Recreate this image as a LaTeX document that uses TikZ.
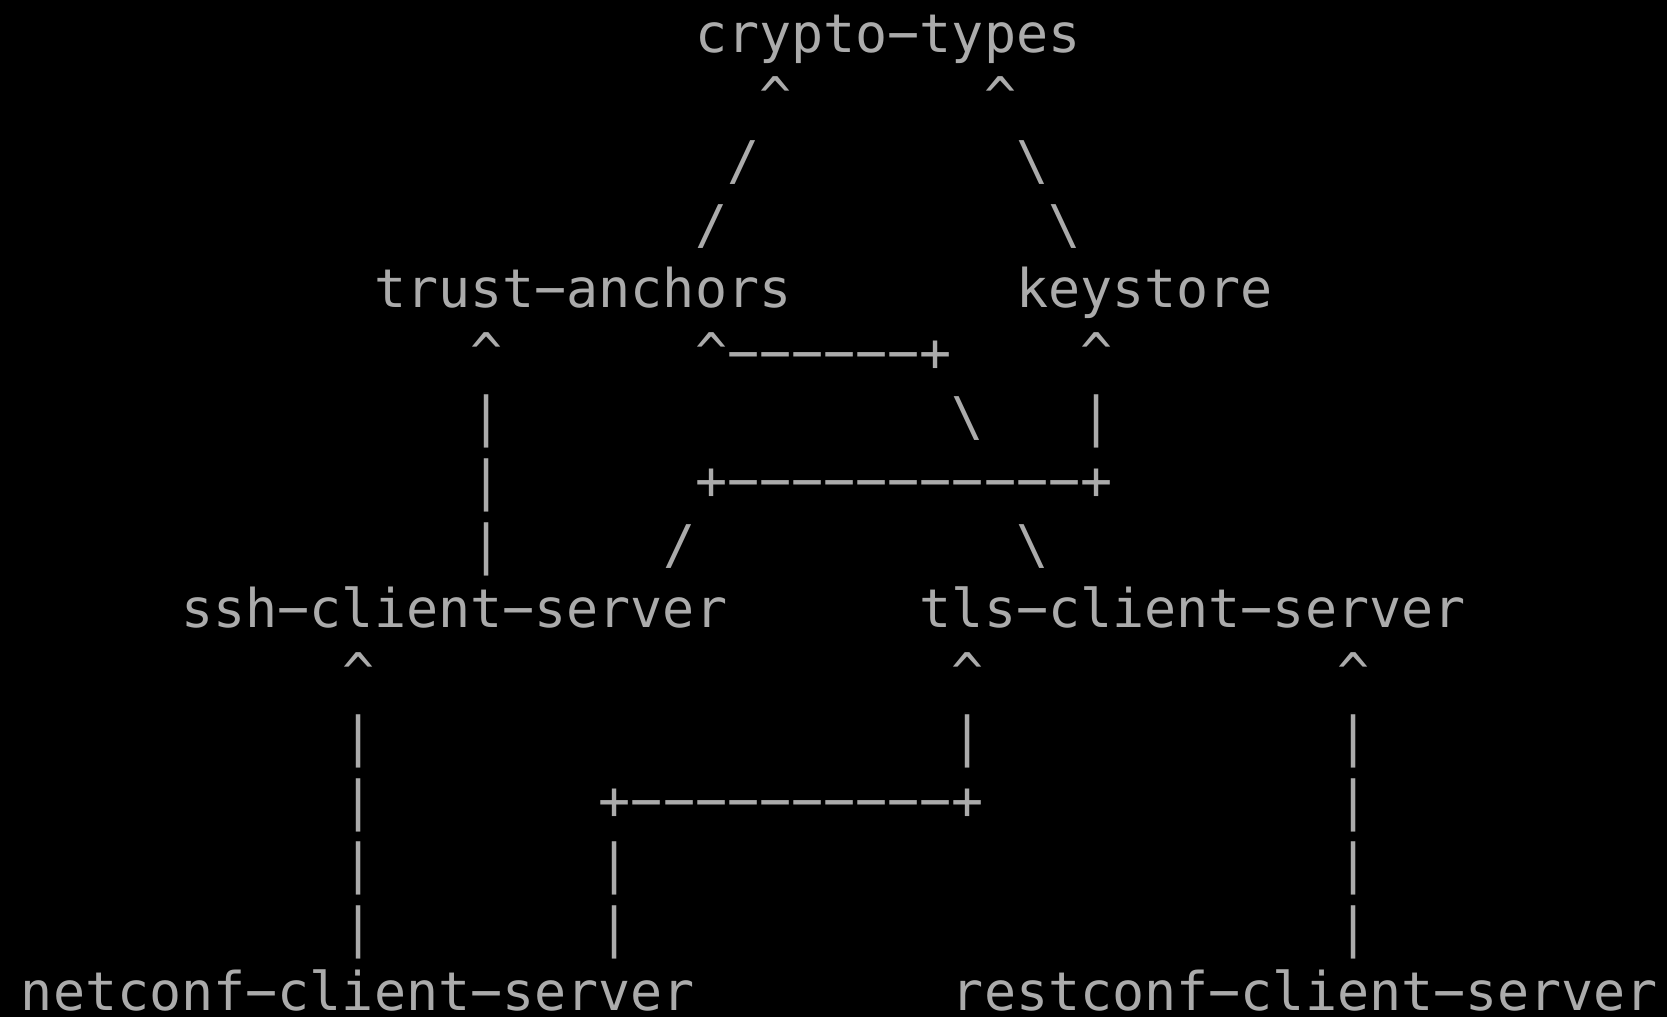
\documentclass[tikz,border=0pt]{standalone}
\usepackage{fontspec}
\setmonofont{DejaVu Sans Mono}
\definecolor{ink}{HTML}{ABABAB}
\tikzset{
  txt/.style={anchor=base west, inner sep=0pt, outer sep=0pt, text=ink,
    font=\ttfamily\fontsize{13.33pt}{16pt}\selectfont}
}
\newcommand\ca{\textasciicircum}
\newcommand\bs{\textbackslash}
\begin{document}
\begin{tikzpicture}
\fill[black] (0pt,0pt) rectangle (416.75pt,-254.25pt);
\useasboundingbox (0pt,0pt) rectangle (416.75pt,-254.25pt);
\begin{scope}[x=8.025pt, y=-15.98pt, shift={(5.25pt,-13pt)}]
% labels
\node[txt] (crypto)   at (21,0)  {crypto−types};
\node[txt] (trust)    at (11,4)  {trust−anchors};
\node[txt] (keystore) at (31,4)  {keystore};
\node[txt] (ssh)      at (5,9)   {ssh−client−server};
\node[txt] (tls)      at (28,9)  {tls−client−server};
\node[txt] (netconf)  at (0,15)  {netconf−client−server};
\node[txt] (restconf) at (29,15) {restconf−client−server};
% ascii connectors
\node[txt] (a1) at (23,1) {\ca};
\node[txt] (a2) at (30,1) {\ca};
\node[txt] (a3) at (22,2) {/};
\node[txt] (a4) at (31,2) {\bs};
\node[txt] (a5) at (21,3) {/};
\node[txt] (a6) at (32,3) {\bs};
\node[txt] (b1) at (14,5) {\ca};
\node[txt] (b2) at (21,5) {\ca−−−−−−+};
\node[txt] (b3) at (33,5) {\ca};
\node[txt] (b4) at (14,6) {|};
\node[txt] (b5) at (29,6) {\bs};
\node[txt] (b6) at (33,6) {|};
\node[txt] (b7) at (14,7) {|};
\node[txt] (b8) at (21,7) {+−−−−−−−−−−−+};
\node[txt] (b9) at (14,8) {|};
\node[txt] (b10) at (20,8) {/};
\node[txt] (b11) at (31,8) {\bs};
\node[txt] (c1) at (10,10) {\ca};
\node[txt] (c2) at (29,10) {\ca};
\node[txt] (c3) at (41,10) {\ca};
\node[txt] (c4) at (10,11) {|};
\node[txt] (c5) at (29,11) {|};
\node[txt] (c6) at (41,11) {|};
\node[txt] (c7) at (10,12) {|};
\node[txt] (c8) at (18,12) {+−−−−−−−−−−+};
\node[txt] (c9) at (41,12) {|};
\node[txt] (c10) at (10,13) {|};
\node[txt] (c11) at (18,13) {|};
\node[txt] (c12) at (41,13) {|};
\node[txt] (c13) at (10,14) {|};
\node[txt] (c14) at (18,14) {|};
\node[txt] (c15) at (41,14) {|};
\end{scope}
\end{tikzpicture}
\end{document}
